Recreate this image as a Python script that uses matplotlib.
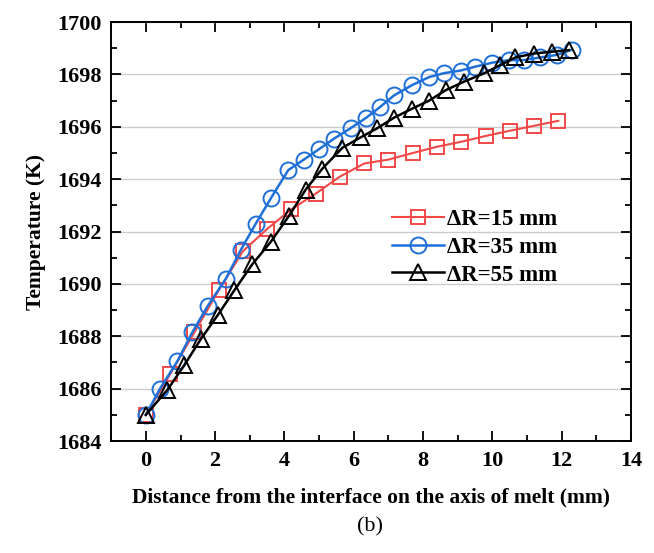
import matplotlib
matplotlib.use("Agg")
import matplotlib.pyplot as plt
from matplotlib.ticker import MultipleLocator

plt.rcParams["font.family"] = ["Liberation Serif", "DejaVu Serif"]

# dR = 15 mm
x15 = [0, 0.7, 1.4, 2.1, 2.8, 3.5, 4.2, 4.9, 5.6, 6.3, 7.0, 7.7, 8.4, 9.1, 9.8, 10.5, 11.2, 11.9]
t15 = [1685.0, 1686.55, 1688.15, 1689.75, 1691.25, 1692.1, 1692.85, 1693.45, 1694.1, 1694.6,
       1694.75, 1695.0, 1695.24, 1695.43, 1695.65, 1695.85, 1696.04, 1696.23]

# dR = 35 mm
x35 = [0, 0.41, 0.91, 1.34, 1.78, 2.31, 2.74, 3.17, 3.62, 4.11, 4.56, 5.0, 5.43, 5.91,
       6.36, 6.75, 7.16, 7.69, 8.17, 8.6, 9.08, 9.51, 9.99, 10.47, 10.9, 11.38, 11.86, 12.3]
t35 = [1685.0, 1686.0, 1687.05, 1688.15, 1689.15, 1690.2, 1691.3, 1692.3, 1693.3, 1694.35,
       1694.75, 1695.15, 1695.55, 1695.95, 1696.35, 1696.75, 1697.2, 1697.6, 1697.9, 1698.05,
       1698.15, 1698.3, 1698.45, 1698.55, 1698.55, 1698.65, 1698.75, 1698.95]

# dR = 55 mm
x55 = [0, 0.62, 1.11, 1.59, 2.07, 2.55, 3.07, 3.6, 4.13, 4.61, 5.09, 5.67, 6.2, 6.68, 7.16,
       7.69, 8.17, 8.65, 9.17, 9.75, 10.23, 10.66, 11.19, 11.72, 12.2]
t55 = [1685.0, 1685.95, 1686.9, 1687.9, 1688.8, 1689.75, 1690.75, 1691.6, 1692.6, 1693.6,
       1694.4, 1695.2, 1695.6, 1695.95, 1696.35, 1696.7, 1697.0, 1697.4, 1697.72, 1698.04,
       1698.36, 1698.65, 1698.8, 1698.87, 1698.93]

labels = ["\u0394R=15 mm", "\u0394R=35 mm", "\u0394R=55 mm"]


def main():
    fig = plt.figure(figsize=(6.54, 5.53), dpi=100)
    ax = fig.add_axes([0.170, 0.2025, 0.795, 0.7575])

    ax.plot(x15, t15, color="#f24848", lw=1.5, marker="s", ms=10, mfc="none",
            mew=1.4, label=labels[0])
    ax.plot(x35, t35, color="#1f6fd8", lw=1.8, marker="o", ms=11.5, mfc="none",
            mew=1.4, label=labels[1])
    ax.plot(x55, t55, color="black", lw=1.8, marker="^", ms=12, mfc="none",
            mew=1.4, label=labels[2])

    ax.set_xlim(-1, 14)
    ax.set_ylim(1684, 1700)
    ax.xaxis.set_major_locator(MultipleLocator(2))
    ax.xaxis.set_minor_locator(MultipleLocator(1))
    ax.yaxis.set_major_locator(MultipleLocator(2))
    ax.yaxis.set_minor_locator(MultipleLocator(1))
    ax.grid(axis="y", which="major", color="#cccccc", lw=1.0)
    ax.set_axisbelow(True)

    ax.tick_params(which="both", direction="in", top=True, right=True, width=1.3)
    ax.tick_params(which="major", length=7, labelsize=16, pad=7)
    ax.tick_params(which="minor", length=4)
    for lab in ax.get_xticklabels() + ax.get_yticklabels():
        lab.set_fontweight("bold")
    for s in ax.spines.values():
        s.set_linewidth(1.4)

    ax.set_xlabel("Distance from the interface on the axis of melt (mm)",
                  fontsize=15.5, fontweight="bold", labelpad=12)
    ax.set_ylabel("Temperature (K)", fontsize=15.5, fontweight="bold", labelpad=8)

    ax.legend(loc="center left", bbox_to_anchor=(0.5, 0.463), frameon=False,
              prop={"size": 16.5, "weight": "bold"}, handlelength=2.3,
              handletextpad=0.1, labelspacing=0.3)

    fig.text(0.565, 0.047, "(b)", fontsize=16, ha="center", va="center")

    fig.savefig("out.png", dpi=100)


if __name__ == "__main__":
    main()
